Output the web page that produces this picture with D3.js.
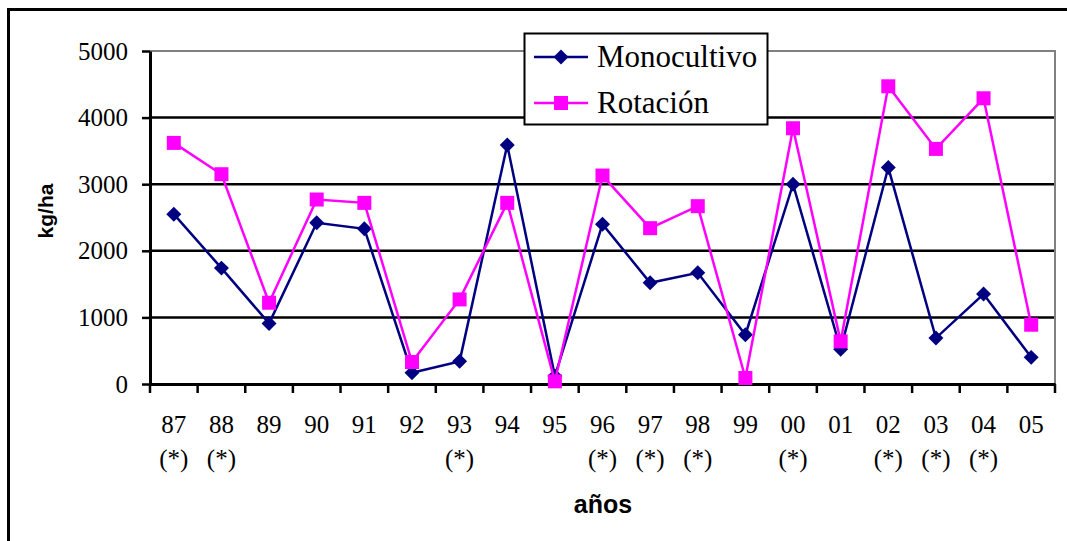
<!DOCTYPE html>
<html>
<head>
<meta charset="utf-8">
<script src="https://d3js.org/d3.v7.min.js"></script>
<style>
  body { margin: 0; background: #fff; }
  svg { display: block; }
</style>
</head>
<body>
<svg width="1067" height="541"></svg>
<script>
// years on the x axis, and which ones carry the (*) mark
var years = ["87","88","89","90","91","92","93","94","95","96","97","98","99","00","01","02","03","04","05"];
var starred = [1,1,0,0,0,0,1,0,0,1,1,1,0,1,0,1,1,1,0];

// kg/ha per year
var monocultivo = [2550, 1740, 910, 2420, 2330, 170, 340, 3590, 120, 2400, 1520, 1670, 740, 3000, 520, 3250, 690, 1350, 400];
var rotacion    = [3620, 3150, 1220, 2770, 2720, 330, 1270, 2720, 40, 3130, 2340, 2670, 90, 3840, 640, 4470, 3530, 4290, 890];

var yTicks = [0, 1000, 2000, 3000, 4000, 5000];

var svg = d3.select("svg");

var serif = "'Liberation Serif', 'Times New Roman', serif",
    sans = "'Liberation Sans', Arial, sans-serif";

var plotLeft = 150, plotRight = 1055, plotTop = 51, plotBottom = 384;

var x = d3.scaleBand().domain(years).range([plotLeft, plotRight]).padding(0);
var y = d3.scaleLinear().domain([0, 5000]).range([plotBottom, plotTop]);

// outer frame of the chart
svg.append("rect")
    .attr("x", 8.5).attr("y", 9.5)
    .attr("width", 1080).attr("height", 560)
    .attr("fill", "none")
    .attr("stroke", "#000")
    .attr("stroke-width", 3);

// gridlines
svg.append("g")
  .selectAll("line")
  .data(yTicks.filter(function(d) { return d > 0 && d < 5000; }))
  .enter().append("line")
    .attr("x1", plotLeft).attr("x2", plotRight)
    .attr("y1", function(d) { return y(d); })
    .attr("y2", function(d) { return y(d); })
    .attr("stroke", "#000")
    .attr("stroke-width", 2.5);

// plot area top and right edges (grey)
svg.append("path")
    .attr("d", "M" + plotLeft + "," + y(5000) + "H" + plotRight + "V" + plotBottom)
    .attr("fill", "none")
    .attr("stroke", "#808080")
    .attr("stroke-width", 2);

// y axis
var yAxis = svg.append("g")
    .attr("transform", "translate(" + plotLeft + ",0)")
    .call(d3.axisLeft(y).tickValues(yTicks).tickFormat(d3.format("d"))
      .tickSize(8).tickSizeOuter(0).tickPadding(14));
yAxis.select(".domain").attr("stroke", "#000").attr("stroke-width", 3);
yAxis.selectAll(".tick line").attr("stroke", "#000").attr("stroke-width", 2.5);
yAxis.selectAll(".tick text")
    .attr("font-family", serif)
    .attr("font-size", 25)
    .attr("fill", "#000");

// x axis: line plus ticks at category boundaries
var xAxis = svg.append("g")
    .attr("transform", "translate(0," + plotBottom + ")")
    .call(d3.axisBottom(x).tickSize(0).tickFormat(""));
xAxis.select(".domain").attr("stroke", "#000").attr("stroke-width", 3);

var bounds = years.map(function(d) { return x(d); }).concat([plotRight]);
xAxis.selectAll(".bound")
  .data(bounds)
  .enter().append("line")
    .attr("class", "bound")
    .attr("x1", function(d) { return d; })
    .attr("x2", function(d) { return d; })
    .attr("y1", 0).attr("y2", 9)
    .attr("stroke", "#000")
    .attr("stroke-width", 2.5);

var xl = svg.append("g");
xl.selectAll(".yr")
  .data(years)
  .enter().append("text")
    .attr("class", "yr")
    .attr("x", function(d) { return x(d) + x.bandwidth() / 2; })
    .attr("y", 433)
    .attr("text-anchor", "middle")
    .attr("font-family", serif)
    .attr("font-size", 25)
    .text(function(d) { return d; });
xl.selectAll(".star")
  .data(years.filter(function(d, i) { return starred[i]; }))
  .enter().append("text")
    .attr("class", "star")
    .attr("x", function(d) { return x(d) + x.bandwidth() / 2; })
    .attr("y", 467)
    .attr("text-anchor", "middle")
    .attr("font-family", serif)
    .attr("font-size", 25)
    .text("(*)");

// axis titles
svg.append("text")
    .attr("x", 603).attr("y", 513)
    .attr("text-anchor", "middle")
    .attr("font-family", sans)
    .attr("font-weight", "bold")
    .attr("font-size", 25)
    .text("años");

svg.append("text")
    .attr("transform", "translate(53,211) rotate(-90)")
    .attr("text-anchor", "middle")
    .attr("font-family", sans)
    .attr("font-weight", "bold")
    .attr("font-size", 21)
    .text("kg/ha");

// series
var line = d3.line()
    .x(function(d, i) { return x(years[i]) + x.bandwidth() / 2; })
    .y(function(d) { return y(d); });

var diamond = d3.symbol().type(d3.symbolSquare).size(112);
var square = d3.symbol().type(d3.symbolSquare).size(196);

function drawSeries(values, color, marker) {
  var g = svg.append("g");
  g.append("path")
      .datum(values)
      .attr("d", line)
      .attr("fill", "none")
      .attr("stroke", color)
      .attr("stroke-width", 2.5);
  g.selectAll("path.mk")
    .data(values)
    .enter().append("path")
      .attr("class", "mk")
      .attr("d", marker == "diamond" ? diamond : square)
      .attr("transform", function(d, i) {
        var t = "translate(" + (x(years[i]) + x.bandwidth() / 2) + "," + y(d) + ")";
        return marker == "diamond" ? t + " rotate(45)" : t;
      })
      .attr("fill", color);
}

drawSeries(monocultivo, "#000080", "diamond");
drawSeries(rotacion, "#FF00FF", "square");

// legend
var leg = svg.append("g");
leg.append("rect")
    .attr("x", 524.5).attr("y", 33.5)
    .attr("width", 243).attr("height", 91)
    .attr("fill", "#fff")
    .attr("stroke", "#000")
    .attr("stroke-width", 2);

var legItems = [
  { name: "Monocultivo", color: "#000080", marker: "diamond", y: 57 },
  { name: "Rotación", color: "#FF00FF", marker: "square", y: 103 }
];
legItems.forEach(function(d) {
  leg.append("line")
      .attr("x1", 534).attr("x2", 588)
      .attr("y1", d.y).attr("y2", d.y)
      .attr("stroke", d.color)
      .attr("stroke-width", 2.5);
  leg.append("path")
      .attr("d", d.marker == "diamond" ? diamond : square)
      .attr("transform", "translate(561," + d.y + ")" + (d.marker == "diamond" ? " rotate(45)" : ""))
      .attr("fill", d.color);
  leg.append("text")
      .attr("x", 597).attr("y", d.y + 10)
      .attr("font-family", serif)
      .attr("font-size", 31)
      .text(d.name);
});
</script>
</body>
</html>
